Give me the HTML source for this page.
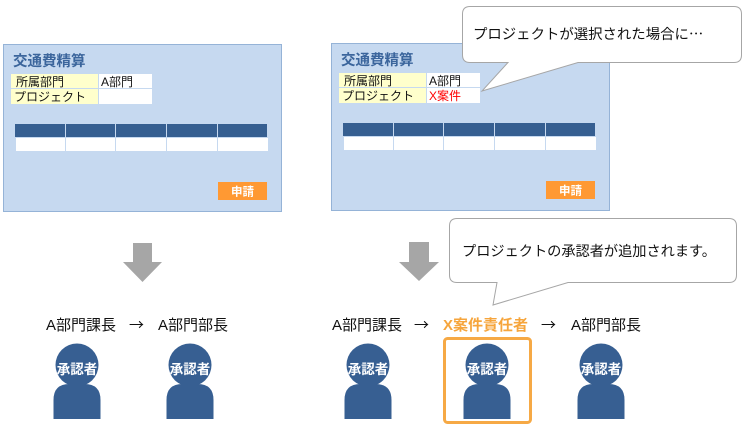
<!DOCTYPE html>
<html><head><meta charset="utf-8"><style>
html,body{margin:0;padding:0;background:#fff;}
svg{display:block;font-family:"Liberation Sans","Noto Sans CJK JP",sans-serif;}
</style></head><body>
<svg width="750" height="428" viewBox="0 0 750 428" xmlns="http://www.w3.org/2000/svg">
<defs>
<g id="form">
  <rect x="3.5" y="44.5" width="278" height="167" fill="#c6d9f0" stroke="#95b3d7" stroke-width="1"/>
  <text x="13" y="66" font-size="14.5" font-weight="bold" fill="#3b659c">交通費精算</text>
  <rect x="11" y="74" width="87" height="14" fill="#ffffcc"/>
  <rect x="99" y="74" width="53" height="14" fill="#fff"/>
  <rect x="11" y="89" width="87" height="15" fill="#ffffcc"/>
  <rect x="99" y="89" width="53" height="15" fill="#fff"/>
  <text x="16" y="86" font-size="12" fill="#111">所属部門</text>
  <text x="14" y="101" font-size="12" fill="#111">プロジェクト</text>
  <text x="101" y="86" font-size="12" fill="#111">A部門</text>
  <rect x="15" y="124" width="252" height="13" fill="#365f91"/>
  <rect x="16" y="138" width="252" height="13" fill="#fff"/>
  <g fill="#c6d9f0">
    <rect x="65" y="124" width="1" height="27"/>
    <rect x="115" y="124" width="1" height="27"/>
    <rect x="166" y="124" width="1" height="27"/>
    <rect x="217" y="124" width="1" height="27"/>
  </g>
  <rect x="218" y="182" width="49" height="18" fill="#ff9933"/>
  <text x="242.5" y="195.5" font-size="11.5" font-weight="bold" fill="#fff" text-anchor="middle">申請</text>
</g>
<g id="person">
  <circle cx="0" cy="365" r="21.5" fill="#375f92"/>
  <path d="M-23.5,419 V400 Q-23.5,384 -7.5,384 H7.5 Q23.5,384 23.5,400 V419 Z" fill="#375f92"/>
  <text x="0" y="374" font-size="13.5" font-weight="bold" fill="#fff" text-anchor="middle">承認者</text>
</g>
</defs>

<use href="#form"/>
<g transform="translate(328,-1)">
  <use href="#form"/>
  <text x="101" y="101" font-size="12" fill="#ff0000">X案件</text>
</g>

<!-- callout 1 -->
<path d="M470,6.5 H734 Q741.5,6.5 741.5,14 V55 Q741.5,62.5 734,62.5 H578 L482,91 L508,62.5 H470 Q462.5,62.5 462.5,55 V14 Q462.5,6.5 470,6.5 Z" fill="#fff" stroke="#a6a6a6" stroke-width="1"/>
<text x="473" y="39" font-size="14.4" fill="#111">プロジェクトが選択された場合に<tspan font-family="Noto Sans CJK JP, sans-serif">…</tspan></text>

<!-- callout 2 -->
<path d="M457,218.5 H729 Q736.5,218.5 736.5,226 V275 Q736.5,282.5 729,282.5 H568 L493,305 L497,282.5 H457 Q449.5,282.5 449.5,275 V226 Q449.5,218.5 457,218.5 Z" fill="#fff" stroke="#a6a6a6" stroke-width="1"/>
<text x="462" y="256" font-size="14.2" fill="#111">プロジェクトの承認者が追加されます。</text>

<!-- arrows -->
<polygon points="133,243 152,243 152,262 162,262 142.5,282 123,262 133,262" fill="#a6a6a6"/>
<polygon points="409,242 429,242 429,262 439,262 419,281 399,262 409,262" fill="#a6a6a6"/>

<!-- labels -->
<g font-size="15" fill="#111">
  <text x="46" y="330">A部門課長</text>
  <text x="129" y="330" font-family="Noto Sans CJK JP, sans-serif">→</text>
  <text x="158" y="330">A部門部長</text>
  <text x="332" y="330">A部門課長</text>
  <text x="414" y="330" font-family="Noto Sans CJK JP, sans-serif">→</text>
  <text x="443" y="330" font-weight="bold" fill="#f6a53c">X案件責任者</text>
  <text x="541" y="330" font-family="Noto Sans CJK JP, sans-serif">→</text>
  <text x="571" y="330">A部門部長</text>
</g>

<!-- orange highlight -->
<rect x="444.5" y="338.5" width="86" height="84" rx="3" fill="none" stroke="#f6a945" stroke-width="3"/>

<!-- persons -->
<use href="#person" transform="translate(77,0)"/>
<use href="#person" transform="translate(190,0)"/>
<use href="#person" transform="translate(368,0)"/>
<use href="#person" transform="translate(487,0)"/>
<use href="#person" transform="translate(601,0)"/>
</svg>
</body></html>
